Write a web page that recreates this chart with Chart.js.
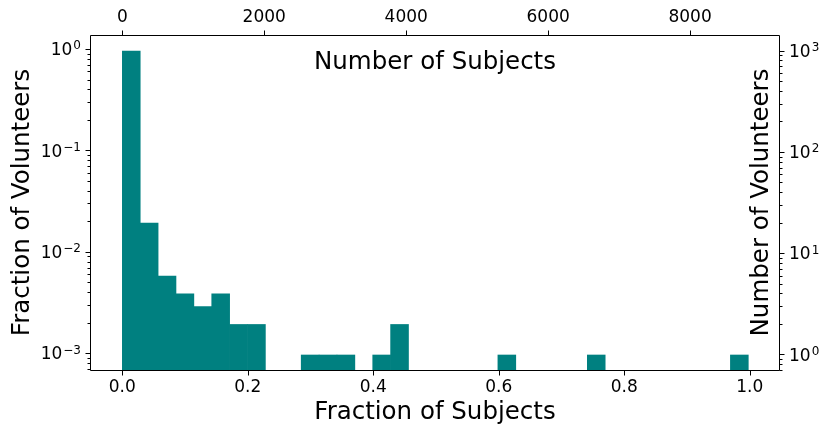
<!DOCTYPE html>
<html><head><meta charset="utf-8">
<script src="https://cdn.jsdelivr.net/npm/chart.js@4.4.0/dist/chart.umd.min.js"></script>
<style>html,body{margin:0;padding:0;background:#fff}#wrap{width:830px;height:435px}</style>
</head><body><div id="wrap"><canvas id="c" width="830" height="435"></canvas></div>
<script>
// Histogram bins (fraction of subjects) - bin centres
const binCenters = [0.0143, 0.0428, 0.0713, 0.0998, 0.1283, 0.1568, 0.1853, 0.2138, 0.2423, 0.2708,
  0.2994, 0.3279, 0.3564, 0.3849, 0.4134, 0.4419, 0.4704, 0.4989, 0.5274, 0.5559,
  0.5844, 0.6129, 0.6414, 0.6699, 0.6984, 0.7269, 0.7554, 0.7839, 0.8124, 0.8409,
  0.8694, 0.8979, 0.9264, 0.9549, 0.9835];
// Number of volunteers in each bin
const volunteerCounts = [990, 20, 6, 4, 3, 4, 2, 2, 0, 0,
  1, 1, 1, 0, 1, 2, 0, 0, 0, 0,
  0, 1, 0, 0, 0, 0, 1, 0, 0, 0,
  0, 0, 0, 0, 1];
const totalVolunteers = 1040;
const totalSubjects = 8840;
const fractionSubjectTicks = [0, 0.2, 0.4, 0.6, 0.8, 1.0];
const numberSubjectTicks = [0, 2000, 4000, 6000, 8000];
const fractionVolunteerTicks = [0.001, 0.01, 0.1, 1];
const numberVolunteerTicks = [1, 10, 100, 1000];
const xLimits = [-0.0499, 1.0467];
const yLimits = [0.000684, 1.374];

const FONT = "'DejaVu Sans', 'Liberation Sans', sans-serif";
function minorLogValues(min, max){
  const out = [];
  for (let e = -5; e <= 4; e++) for (let m = 2; m <= 9; m++) {
    const v = m * Math.pow(10, e);
    if (v >= min && v <= max) out.push(v);
  }
  return out;
}

const barData = binCenters.map((x, i) => ({x: x, y: volunteerCounts[i] > 0 ? volunteerCounts[i] / totalVolunteers : null}));

function drawPowLabel(ctx, v, y, anchorX, alignRight){
  const e = String(Math.round(Math.log10(v))).replace('-', '\u2212');
  ctx.font = '17px ' + FONT;
  const wb = ctx.measureText('10').width;
  ctx.font = '12px ' + FONT;
  const we = ctx.measureText(e).width;
  const x0 = alignRight ? anchorX - wb - we - 1 : anchorX;
  ctx.textAlign = 'left'; ctx.textBaseline = 'alphabetic';
  ctx.font = '17px ' + FONT;
  ctx.fillText('10', x0, y + 6.2);
  ctx.font = '12px ' + FONT;
  ctx.fillText(e, x0 + wb + 1, y + 0.5);
}

const decor = {
  id: 'decor',
  afterDraw(chart){
    const ctx = chart.ctx, a = chart.chartArea, s = chart.scales;
    ctx.save();
    ctx.strokeStyle = '#000'; ctx.lineWidth = 1;
    const L = a.left - 0.5, R = a.right + 0.5, T = a.top + 0.5, B = a.bottom + 0.5;
    ctx.beginPath();
    ctx.moveTo(L, T); ctx.lineTo(R, T); ctx.lineTo(R, B); ctx.lineTo(L, B); ctx.closePath();
    ctx.stroke();
    ctx.beginPath();
    fractionSubjectTicks.forEach(v => { const p = Math.round(s.x.getPixelForValue(v)) + 0.5; ctx.moveTo(p, B); ctx.lineTo(p, B + 5); });
    numberSubjectTicks.forEach(v => { const p = Math.round(s.x2.getPixelForValue(v)) + 0.5; ctx.moveTo(p, T); ctx.lineTo(p, T - 5); });
    fractionVolunteerTicks.forEach(v => { const p = Math.round(s.y.getPixelForValue(v)) + 0.5; ctx.moveTo(L, p); ctx.lineTo(L - 5, p); });
    minorLogValues(s.y.min, s.y.max).forEach(v => { const p = Math.round(s.y.getPixelForValue(v)) + 0.5; ctx.moveTo(L, p); ctx.lineTo(L - 3, p); });
    numberVolunteerTicks.forEach(v => { const p = Math.round(s.y2.getPixelForValue(v)) + 0.5; ctx.moveTo(R, p); ctx.lineTo(R + 5, p); });
    minorLogValues(s.y2.min, s.y2.max).forEach(v => { const p = Math.round(s.y2.getPixelForValue(v)) + 0.5; ctx.moveTo(R, p); ctx.lineTo(R + 3, p); });
    ctx.stroke();

    ctx.fillStyle = '#000';
    fractionVolunteerTicks.forEach(v => drawPowLabel(ctx, v, s.y.getPixelForValue(v), a.left - 10, true));
    numberVolunteerTicks.forEach(v => drawPowLabel(ctx, v, s.y2.getPixelForValue(v), a.right + 10, false));

    ctx.font = '24.5px ' + FONT;
    ctx.textAlign = 'center'; ctx.textBaseline = 'alphabetic';
    const cx = (a.left + a.right) / 2, cy = (a.top + a.bottom) / 2;
    ctx.fillText('Fraction of Subjects', cx, 419);
    ctx.fillText('Number of Subjects', cx, 69);
    ctx.save(); ctx.translate(28.5, cy); ctx.rotate(-Math.PI / 2); ctx.fillText('Fraction of Volunteers', 0, 0); ctx.restore();
    ctx.save(); ctx.translate(768, cy); ctx.rotate(-Math.PI / 2); ctx.fillText('Number of Volunteers', 0, 0); ctx.restore();
    ctx.restore();
  }
};

const tickFont = {family: FONT, size: 17};
new Chart(document.getElementById('c'), {
  type: 'bar',
  data: {
    datasets: [{
      data: barData,
      backgroundColor: '#008080',
      borderWidth: 0,
      barPercentage: 1.0,
      categoryPercentage: 1.0,
      xAxisID: 'x', yAxisID: 'y'
    }]
  },
  options: {
    responsive: false,
    animation: false,
    devicePixelRatio: 1,
    layout: {padding: 0},
    plugins: {legend: {display: false}, tooltip: {enabled: false}},
    scales: {
      x: {
        type: 'linear', position: 'bottom', offset: false,
        min: xLimits[0], max: xLimits[1],
        grid: {display: false, drawTicks: false, tickLength: 0, offset: false}, border: {display: false},
        afterBuildTicks: sc => { sc.ticks = fractionSubjectTicks.map(v => ({value: v})); },
        afterFit: sc => { sc.height = 65; },
        ticks: {font: tickFont, color: '#000', padding: 7, autoSkip: false, maxRotation: 0,
          callback: v => Number(v).toFixed(1)}
      },
      x2: {
        type: 'linear', position: 'top', offset: false,
        min: xLimits[0] * totalSubjects, max: xLimits[1] * totalSubjects,
        grid: {display: false, drawTicks: false, tickLength: 0}, border: {display: false},
        afterBuildTicks: sc => { sc.ticks = numberSubjectTicks.map(v => ({value: v})); },
        afterFit: sc => { sc.height = 35; },
        ticks: {font: tickFont, color: '#000', padding: 7, autoSkip: false, maxRotation: 0,
          callback: v => String(v)}
      },
      y: {
        type: 'logarithmic', position: 'left',
        min: yLimits[0], max: yLimits[1],
        grid: {display: false, drawTicks: false, tickLength: 0}, border: {display: false},
        afterBuildTicks: sc => { sc.ticks = fractionVolunteerTicks.map(v => ({value: v})); },
        afterFit: sc => { sc.width = 91; },
        ticks: {display: false}
      },
      y2: {
        type: 'logarithmic', position: 'right',
        min: yLimits[0] * totalVolunteers, max: yLimits[1] * totalVolunteers,
        grid: {display: false, drawTicks: false, tickLength: 0}, border: {display: false},
        afterBuildTicks: sc => { sc.ticks = numberVolunteerTicks.map(v => ({value: v})); },
        afterFit: sc => { sc.width = 51; },
        ticks: {display: false}
      }
    }
  },
  plugins: [decor]
});
</script>
</body></html>
